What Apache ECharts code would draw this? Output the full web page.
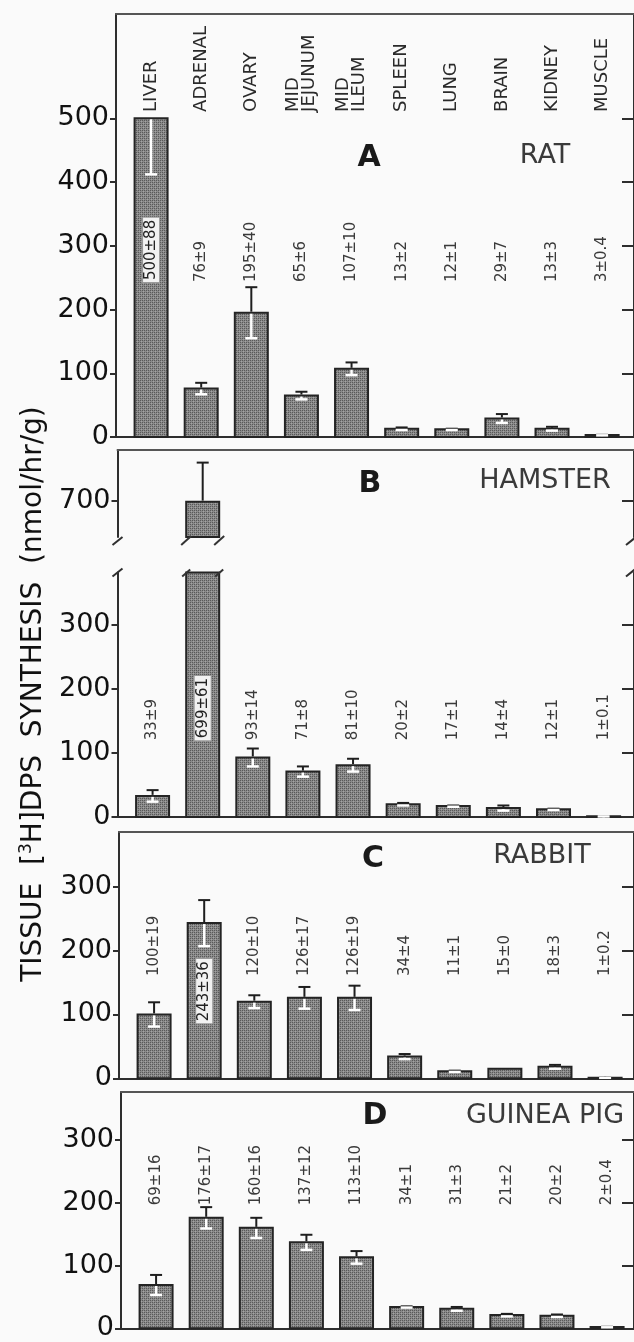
<!DOCTYPE html>
<html><head><meta charset="utf-8">
<script src="https://cdn.jsdelivr.net/npm/echarts@6/dist/echarts.min.js"></script>
<style>html,body{margin:0;padding:0;background:#fafafa}#c{width:634px;height:1342px}</style>
</head><body><div id="c"></div>
<script>
// ---------------- data ----------------
const categories = ['LIVER','ADRENAL','OVARY','MID\nJEJUNUM','MID\nILEUM','SPLEEN','LUNG','BRAIN','KIDNEY','MUSCLE'];
const ratValues = [500, 76, 195, 65, 107, 13, 12, 29, 13, 3];
const ratErrors = [88, 9, 40, 6, 10, 2, 1, 7, 3, 0.4];
const hamsterValues = [33, 699, 93, 71, 81, 20, 17, 14, 12, 1];
const hamsterErrors = [9, 61, 14, 8, 10, 2, 1, 4, 1, 0.1];
const rabbitValues = [100, 243, 120, 126, 126, 34, 11, 15, 18, 1];
const rabbitErrors = [19, 36, 10, 17, 19, 4, 1, 0, 3, 0.2];
const guineaPigValues = [69, 176, 160, 137, 113, 34, 31, 21, 20, 2];
const guineaPigErrors = [16, 17, 16, 12, 10, 1, 3, 2, 2, 0.4];
const panelLetters = ['A', 'B', 'C', 'D'];
const speciesNames = ['RAT', 'HAMSTER', 'RABBIT', 'GUINEA PIG'];
const ratTicks = [0, 100, 200, 300, 400, 500];
const hamsterUpperTicks = [700];
const hamsterLowerTicks = [0, 100, 200, 300];
const rabbitTicks = [0, 100, 200, 300];
const guineaPigTicks = [0, 100, 200, 300];
const yAxisTitle = ['TISSUE  [', '3', 'H]DPS  SYNTHESIS  (nmol/hr/g)'];

// ---------------- layout / style ----------------
const SPACING = 50.6, XMIN = -0.7, RIGHT_EDGE = 639, BW = 33, CAP = 12;
const AX = '#2e2e2e';
const FONT = 'DejaVu Sans';
const panels = [
  {left:116,   top:14,    height:423,   min:0,      max:663.6, ticks:ratTicks, rTicks:[100,200,300,400,500],
   values:ratValues, errors:ratErrors, labelBase:243, boxed:[0], noUpper:[0], topLine:true, bottomLine:true, labels:true, cats:true},
  {left:117.5, top:450,   height:87,    min:643.75, max:779.7, ticks:hamsterUpperTicks, rTicks:[700],
   values:hamsterValues, errors:hamsterErrors, topLine:true, bottomLine:false, breakBottom:true, labels:false},
  {left:117.5, top:572.5, height:244.5, min:0,      max:382,   ticks:hamsterLowerTicks, rTicks:[100,200,300],
   values:hamsterValues, errors:hamsterErrors, labelBase:120, boxed:[1], topLine:false, bottomLine:true, breakTop:true, labels:true},
  {left:119,   top:832,   height:246.3, min:0,      max:385.6, ticks:rabbitTicks, rTicks:[100,200,300],
   values:rabbitValues, errors:rabbitErrors, labelBase:160, boxed:[1], boxedBase:86, topLine:true, bottomLine:true, labels:true},
  {left:121,   top:1092,  height:236.3, min:0,      max:376.4, ticks:guineaPigTicks, rTicks:[100,200,300],
   values:guineaPigValues, errors:guineaPigErrors, labelBase:196, topLine:true, bottomLine:true, labels:true}
];
const headerPos = [ // [letterX, letterY, speciesX, speciesY]
  [369, 158, 545, 156], [370, 484, 545, 481], [373, 859, 542, 856], [375, 1116, 545, 1116]
];

// stipple pattern for bars
const pc = document.createElement('canvas'); pc.width = 4; pc.height = 4;
const pctx = pc.getContext('2d');
pctx.fillStyle = '#8a8a8a'; pctx.fillRect(0, 0, 4, 4);
pctx.fillStyle = '#595959';
pctx.fillRect(0, 0, 1, 1); pctx.fillRect(2, 2, 1, 1); pctx.fillRect(2, 0, 1, 1); pctx.fillRect(0, 2, 1, 1);
pctx.fillStyle = '#a3a3a3'; pctx.fillRect(1, 1, 1, 1); pctx.fillRect(3, 3, 1, 1);
const barFill = {image: pc, repeat: 'repeat'};

const grids = [], xAxes = [], yAxes = [], series = [];
panels.forEach((p, k) => {
  const width = RIGHT_EDGE - p.left;
  grids.push({left: p.left, top: p.top, width: width, height: p.height, containLabel: false});
  const xmax = XMIN + width / SPACING;
  const lineStyle = {color: AX, width: 2};
  xAxes.push({gridIndex:k, type:'value', min:XMIN, max:xmax, position:'bottom',
    axisLine:{show:p.bottomLine, onZero:false, lineStyle}, axisTick:{show:false}, axisLabel:{show:false}, splitLine:{show:false}});
  xAxes.push({gridIndex:k, type:'value', min:XMIN, max:xmax, position:'top',
    axisLine:{show:p.topLine, onZero:false, lineStyle:{color:'#555', width:2}}, axisTick:{show:false}, axisLabel:{show:false}, splitLine:{show:false}});
  yAxes.push({gridIndex:k, type:'value', min:p.min, max:p.max, position:'left',
    axisLine:{show:true, onZero:false, lineStyle},
    axisTick:{show:true, inside:false, length:6, customValues:p.ticks, lineStyle},
    axisLabel:{customValues:p.ticks, fontSize:27, fontFamily:FONT, color:'#111', margin:7},
    splitLine:{show:false}});
  yAxes.push({gridIndex:k, type:'value', min:p.min, max:p.max, position:'right',
    axisLine:{show:true, onZero:false, lineStyle},
    axisTick:{show:true, inside:true, length:12, customValues:p.rTicks, lineStyle},
    axisLabel:{show:false}, splitLine:{show:false}});

  series.push({
    type:'custom', xAxisIndex:k*2, yAxisIndex:k*2, clip:false, z:3,
    data: p.values.map((v, i) => [i, v, p.errors[i]]),
    renderItem(params, api) {
      const i = api.value(0), v = api.value(1), e = api.value(2);
      const cs = params.coordSys;
      const bottom = cs.y + cs.height;
      const children = [];
      const cx = api.coord([i, p.min])[0];
      if (p.cats) {
        const cp = api.coord([i, 510]);
        children.push({type:'text', x:cp[0], y:cp[1], rotation:Math.PI/2,
          style:{text:categories[i], fill:'#2a2a2a', font:'18px "' + FONT + '"', align:'left', verticalAlign:'middle', lineHeight:16}});
      }
      if (v >= p.min) {
        let yTop = api.coord([i, v])[1];
        const clipped = yTop < cs.y;
        if (clipped) yTop = cs.y;
        children.push({type:'rect', shape:{x:cx - BW/2, y:yTop, width:BW, height:bottom - yTop},
          style:{fill:barFill, stroke:'#242424', lineWidth:2}});
        if (!clipped && e > 0) {
          const noUp = (p.noUpper || []).indexOf(i) >= 0;
          if (!noUp && v + e <= p.max) {
            const yU = api.coord([i, v + e])[1];
            children.push({type:'line', shape:{x1:cx, y1:yTop - 1, x2:cx, y2:yU}, style:{stroke:'#1e1e1e', lineWidth:2}});
            children.push({type:'line', shape:{x1:cx - CAP/2, y1:yU, x2:cx + CAP/2, y2:yU}, style:{stroke:'#1e1e1e', lineWidth:2}});
          }
          if (v - e >= p.min) {
            const yL = api.coord([i, v - e])[1];
            children.push({type:'line', shape:{x1:cx, y1:yTop + 1, x2:cx, y2:yL}, style:{stroke:'#ffffff', lineWidth:2.5}});
            children.push({type:'line', shape:{x1:cx - CAP/2, y1:yL, x2:cx + CAP/2, y2:yL}, style:{stroke:'#ffffff', lineWidth:2.5}});
          }
        }
        if (p.breakBottom && v <= p.max) {
          [cx - BW/2, cx + BW/2].forEach(ex => children.push({type:'line',
            shape:{x1:ex - 5, y1:bottom + 8, x2:ex + 5, y2:bottom - 1}, style:{stroke:'#333', lineWidth:2}}));
        }
        if (p.breakTop && clipped) {
          [cx - BW/2, cx + BW/2].forEach(ex => children.push({type:'line',
            shape:{x1:ex - 4, y1:yTop + 4, x2:ex + 4, y2:yTop - 3}, style:{stroke:'#333', lineWidth:2}}));
        }
      }
      if (p.labels) {
        const isBoxed = (p.boxed || []).indexOf(i) >= 0;
        const base = (isBoxed && p.boxedBase !== undefined) ? p.boxedBase : p.labelBase;
        const lp = api.coord([i, base]);
        const st = {text: v + '±' + e, fill:'#3a3a3a', font:'15px "' + FONT + '"', align:'left', verticalAlign:'middle'};
        if (isBoxed) { st.backgroundColor = '#f2f2f2'; st.borderColor = '#9a9a9a'; st.borderWidth = 1; st.padding = [1, 2, 0, 2]; st.fill = '#222'; }
        children.push({type:'text', x:lp[0], y:lp[1], rotation:Math.PI/2, style:st, z2:10});
      }
      return {type:'group', children};
    }
  });

  if (p.breakBottom || p.breakTop) {
    series.push({
      type:'custom', xAxisIndex:k*2, yAxisIndex:k*2, clip:false, z:4,
      data:[[0, p.min]],
      renderItem(params, api) {
        const cs = params.coordSys;
        const yb = p.breakBottom ? cs.y + cs.height + 4 : cs.y;
        return {type:'group', children:[cs.x, cs.x + cs.width - 3].map(ex => ({type:'line',
          shape:{x1:ex - 5, y1:yb + 4, x2:ex + 5, y2:yb - 4}, style:{stroke:AX, lineWidth:2}}))};
      }
    });
  }
});

const graphics = [];
headerPos.forEach((h, k) => {
  graphics.push({type:'text', x:h[0], y:h[1], style:{text:panelLetters[k], font:'bold 30px "' + FONT + '"', fill:'#1a1a1a', align:'center', verticalAlign:'middle'}});
  graphics.push({type:'text', x:h[2], y:h[3], style:{text:speciesNames[k], font:'27px "' + FONT + '"', fill:'#3a3a3a', align:'center', verticalAlign:'middle'}});
});
graphics.push({type:'text', x:34, y:694, rotation:Math.PI/2,
  style:{text:'{a|' + yAxisTitle[0] + '}{s|' + yAxisTitle[1] + '}{a|' + yAxisTitle[2] + '}',
    align:'center', verticalAlign:'middle',
    rich:{a:{font:'28px "' + FONT + '"', fill:'#111', color:'#111', lineHeight:32},
          s:{font:'17px "' + FONT + '"', color:'#111', fill:'#111', verticalAlign:'top', lineHeight:32, padding:[0,0,12,0]}}}});

const chart = echarts.init(document.getElementById('c'));
chart.setOption({
  backgroundColor:'#fafafa', animation:false,
  grid:grids, xAxis:xAxes, yAxis:yAxes, series:series, graphic:graphics
});
</script></body></html>
